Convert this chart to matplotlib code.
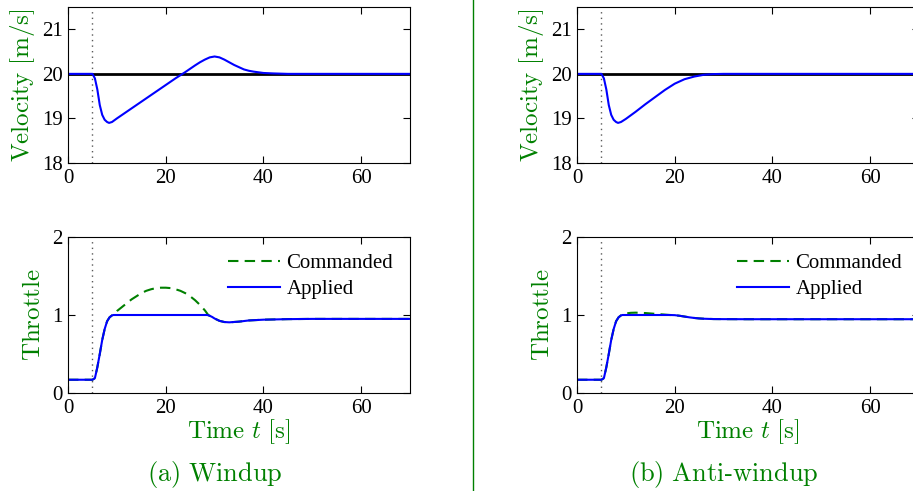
import numpy as np
import matplotlib.pyplot as plt

plt.rcParams['font.family'] = ['Liberation Serif', 'DejaVu Serif']
plt.rcParams['mathtext.fontset'] = 'cm'

green = '#008000'
blue = '#0000ff'

# dane
v_ref = 20.0
t_dist = 5.0

# windup - predkosc
t_vel_w = [0, 5, 5.5, 6, 6.5, 7, 7.5, 8, 8.4, 9, 10, 12, 14, 16, 18, 20, 22, 24, 26, 27, 28, 29, 30,
           31, 32, 33, 34, 35, 36, 37, 38, 40, 42, 45, 70]
vel_w = [20, 20, 19.9, 19.65, 19.3, 19.08, 18.97, 18.92, 18.9, 18.92, 19.0, 19.15, 19.3, 19.45, 19.6,
         19.75, 19.9, 20.04, 20.19, 20.26, 20.32, 20.37, 20.39, 20.37, 20.32, 20.26, 20.2, 20.15, 20.1,
         20.07, 20.05, 20.02, 20.01, 20.0, 20.0]

# anti-windup - predkosc
t_vel_a = [0, 5, 5.5, 6, 6.5, 7, 7.5, 8, 8.4, 9, 10, 12, 14, 16, 18, 20, 22, 24, 26, 28, 30, 70]
vel_a = [20, 20, 19.9, 19.65, 19.3, 19.08, 18.97, 18.92, 18.9, 18.92, 18.99, 19.15, 19.32, 19.48,
         19.64, 19.78, 19.88, 19.94, 19.98, 19.995, 20.0, 20.0]

# windup - przepustnica
t_thr_w = [0, 5, 5.5, 6, 6.5, 7, 7.5, 8, 8.5, 9, 9.3, 28.5, 29, 29.5, 30, 31, 32, 33, 35, 37, 40, 45,
           50, 70]
thr_w_app = [0.17, 0.17, 0.19, 0.33, 0.5, 0.68, 0.82, 0.92, 0.97, 0.995, 1.0, 1.0, 0.99, 0.975, 0.955,
             0.925, 0.91, 0.906, 0.915, 0.93, 0.94, 0.947, 0.95, 0.95]
t_thr_w_cmd = [0, 5, 5.5, 6, 6.5, 7, 7.5, 8, 8.5, 9, 9.3, 10, 11, 12, 13, 14, 15, 16, 17, 18, 19, 20,
               21, 22, 23, 24, 25, 26, 27, 28, 28.7, 29, 29.5, 30, 31, 32, 33, 35, 37, 40, 45, 50, 70]
thr_w_cmd = [0.17, 0.17, 0.19, 0.33, 0.5, 0.68, 0.82, 0.92, 0.97, 0.995, 1.0, 1.05, 1.1, 1.15, 1.2,
             1.24, 1.28, 1.31, 1.33, 1.345, 1.35, 1.35, 1.345, 1.33, 1.31, 1.28, 1.24, 1.19, 1.13,
             1.06, 1.0, 0.99, 0.975, 0.955, 0.925, 0.91, 0.906, 0.915, 0.93, 0.94, 0.947, 0.95, 0.95]

# anti-windup - przepustnica
t_thr_a = [0, 5, 5.5, 6, 6.5, 7, 7.5, 8, 8.5, 9, 9.3, 19, 20, 21, 22, 23, 24, 25, 26, 27, 28, 30, 35, 70]
thr_a_app = [0.17, 0.17, 0.19, 0.33, 0.5, 0.68, 0.82, 0.92, 0.97, 0.995, 1.0, 1.0, 0.998, 0.99, 0.98,
             0.97, 0.962, 0.956, 0.952, 0.95, 0.948, 0.947, 0.946, 0.946]
t_thr_a_cmd = [0, 5, 5.5, 6, 6.5, 7, 7.5, 8, 8.5, 9, 9.3, 10, 11, 12, 14, 16, 18, 19, 20, 21, 22, 23,
               24, 25, 26, 27, 28, 30, 35, 70]
thr_a_cmd = [0.17, 0.17, 0.19, 0.33, 0.5, 0.68, 0.82, 0.92, 0.97, 0.995, 1.0, 1.02, 1.028, 1.03, 1.025,
             1.015, 1.005, 1.0, 0.998, 0.99, 0.98, 0.97, 0.962, 0.956, 0.952, 0.95, 0.948, 0.947,
             0.946, 0.946]

x_ticks = [0, 20, 40, 60]


def style(ax):
    ax.tick_params(direction='in', top=True, right=True, length=5, width=0.8,
                   labelsize=15, pad=4)
    ax.set_xlim(0, 70)
    ax.set_xticks(x_ticks)
    ax.axvline(t_dist, color='0.35', ls=(0, (1, 3)), lw=1)


fig = plt.figure(figsize=(9.13, 4.91), dpi=100)

cols = [(0.0745, t_vel_w, vel_w, t_thr_w, thr_w_app, t_thr_w_cmd, thr_w_cmd, 'a', 'Windup', 0.2355),
        (0.632, t_vel_a, vel_a, t_thr_a, thr_a_app, t_thr_a_cmd, thr_a_cmd, 'b', 'Anti\u2010windup', 0.793)]

for x0, tv, v, tt, app, tc, cmd, letter, name, cx in cols:
    # predkosc
    ax1 = fig.add_axes([x0, 0.668, 0.3746, 0.3177])
    style(ax1)
    ax1.axhline(v_ref, color='k', lw=2)
    ax1.plot(tv, v, color=blue, lw=1.5)
    ax1.set_ylim(18, 21.5)
    ax1.set_yticks([18, 19, 20, 21])
    ax1.set_ylabel(r'$\mathrm{Velocity\ [m/s]}$', color=green, fontsize=18)
    ax1.yaxis.set_label_coords(-0.092, 0.5)

    # przepustnica
    ax2 = fig.add_axes([x0, 0.1996, 0.3746, 0.3177])
    style(ax2)
    ax2.plot(tc, cmd, color=green, ls=(0, (5, 3)), lw=1.5, label='Commanded')
    ax2.plot(tt, app, color=blue, lw=1.5, label='Applied')
    ax2.set_ylim(0, 2)
    ax2.set_yticks([0, 1, 2])
    ax2.set_ylabel(r'$\mathrm{Throttle}$', color=green, fontsize=18)
    ax2.yaxis.set_label_coords(-0.066, 0.5)
    ax2.set_xlabel(r'$\mathrm{Time}\ t\ [\mathrm{s}]$', color=green, fontsize=18, labelpad=0)
    ax2.legend(loc='upper right', frameon=False, fontsize=15, handlelength=2.5,
               handletextpad=0.3, labelspacing=0.3, borderaxespad=0.4)

    fig.text(cx, 0.0326, r'$\mathrm{(' + letter + r')\ ' + name + r'}$',
             color=green, fontsize=19, ha='center', va='center')

# linia podzialu
fig.add_artist(plt.Line2D([473 / 913, 473 / 913], [0, 1], color=green, lw=1))

fig.savefig('out.png', dpi=100)
